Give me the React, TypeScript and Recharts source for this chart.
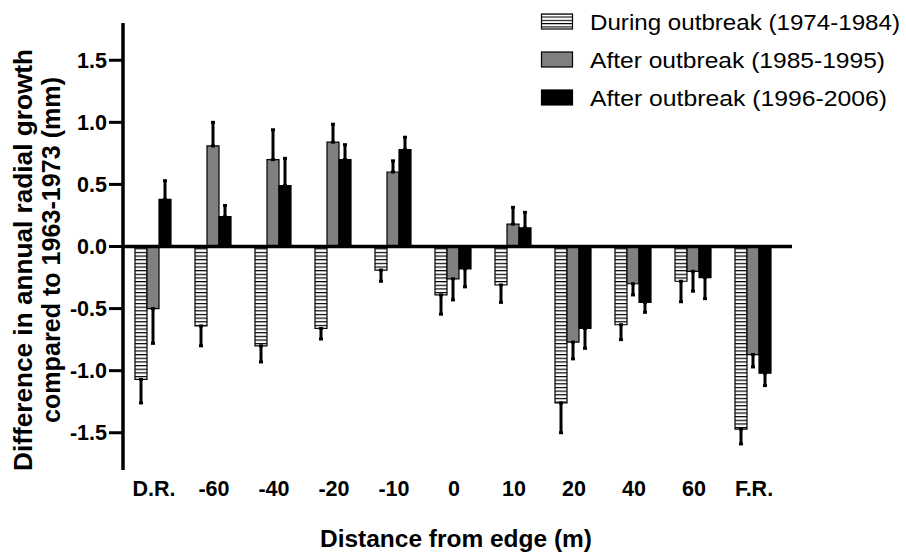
import { BarChart, Bar, XAxis, YAxis, ErrorBar, ReferenceLine, Legend, Label } from "recharts";

const FONT = "'Liberation Sans', Arial, sans-serif";

const categories = ["D.R.", "-60", "-40", "-20", "-10", "0", "10", "20", "40", "60", "F.R."];
const during = [-1.07, -0.64, -0.8, -0.66, -0.19, -0.39, -0.31, -1.26, -0.63, -0.28, -1.47];
const duringErr = [0.19, 0.16, 0.13, 0.085, 0.09, 0.155, 0.14, 0.24, 0.12, 0.165, 0.12];
const after85 = [-0.5, 0.81, 0.7, 0.84, 0.6, -0.26, 0.18, -0.77, -0.3, -0.2, -0.87];
const after85Err = [0.28, 0.19, 0.24, 0.145, 0.09, 0.17, 0.135, 0.135, 0.09, 0.16, 0.1];
const after96 = [0.38, 0.24, 0.49, 0.7, 0.78, -0.18, 0.15, -0.66, -0.45, -0.25, -1.02];
const after96Err = [0.15, 0.09, 0.22, 0.12, 0.1, 0.145, 0.125, 0.16, 0.08, 0.17, 0.1];
const seriesNames = [
  "During outbreak (1974-1984)",
  "After outbreak (1985-1995)",
  "After outbreak (1996-2006)",
];
const yTicks = [-1.5, -1, -0.5, 0, 0.5, 1, 1.5];

// one-sided error bars, pointing away from zero
const oneSided = (v: number, e: number) => (v < 0 ? [e, 0] : [0, e]);

const XTick = (props: any) => {
  const { x, y, payload } = props;
  return (
    <text x={x + 1} y={y + 26} textAnchor="middle" fontFamily={FONT} fontSize={21.5} fontWeight="bold" fill="#000">
      {payload.value}
    </text>
  );
};

const XTitle = () => (
  <text x={456} y={547} textAnchor="middle" fontFamily={FONT} fontSize={23} fontWeight="bold" fill="#000"
    textLength={272} lengthAdjust="spacingAndGlyphs">
    Distance from edge (m)
  </text>
);

const YTitle = () => (
  <g fontFamily={FONT} fontSize={26} fontWeight="bold" fill="#000">
    <text transform="translate(32,260) rotate(-90)" textAnchor="middle" textLength={422} lengthAdjust="spacingAndGlyphs">
      Difference in annual radial growth
    </text>
    <text transform="translate(59.5,250) rotate(-90)" textAnchor="middle" textLength={346} lengthAdjust="spacingAndGlyphs">
      compared to 1963-1973 (mm)
    </text>
  </g>
);

const legendFills = ["url(#legstripe)", "#808080", "#000"];
const legendLens = [310, 295, 297];

const LegendBox = () => (
  <svg width={376} height={120} style={{ display: "block" }}>
    <defs>
      <pattern id="legstripe" patternUnits="userSpaceOnUse" width={8} height={3.3}>
        <rect width={8} height={3.3} fill="#fff" />
        <rect width={8} height={1.1} fill="#000" />
      </pattern>
    </defs>
    {seriesNames.map((name, i) => {
      const top = 14 + i * 38;
      return (
        <g key={name}>
          <rect x={11.5} y={top} width={31} height={15} fill={legendFills[i]} stroke="#000" strokeWidth={1.2} />
          <text x={60} y={top + 15.5} fontFamily={FONT} fontSize={21.5} fill="#000"
            textLength={legendLens[i]} lengthAdjust="spacingAndGlyphs">
            {name}
          </text>
        </g>
      );
    })}
  </svg>
);

export default function App() {
  const data = categories.map((cat, i) => ({
    cat,
    during: during[i],
    duringErr: oneSided(during[i], duringErr[i]),
    after85: after85[i],
    after85Err: oneSided(after85[i], after85Err[i]),
    after96: after96[i],
    after96Err: oneSided(after96[i], after96Err[i]),
  }));

  return (
    <div style={{ position: "absolute", left: 0, top: 0, width: 906, height: 553, background: "#fff" }}>
      <BarChart
        width={906}
        height={553}
        data={data}
        margin={{ top: 23, right: 114, bottom: 0, left: 0 }}
        barGap={0}
        barCategoryGap={12}
      >
        <defs>
          <pattern id="hstripe" patternUnits="userSpaceOnUse" width={8} height={3.65}>
            <rect width={8} height={3.65} fill="#fff" />
            <rect width={8} height={1.2} fill="#000" />
          </pattern>
        </defs>
        <XAxis
          dataKey="cat"
          axisLine={false}
          tickLine={false}
          tickSize={0}
          tickMargin={0}
          height={83}
          interval={0}
          padding={{ left: 0, right: 9 }}
          tick={<XTick />}
        >
          <Label content={XTitle} />
        </XAxis>
        <YAxis
          domain={[-1.8, 1.8]}
          ticks={yTicks}
          width={123}
          allowDataOverflow
          axisLine={{ stroke: "#000", strokeWidth: 3.5 }}
          tickLine={{ stroke: "#000", strokeWidth: 3 }}
          tickSize={14}
          tickMargin={2}
          tick={{ fill: "#000", fontSize: 21.5, fontWeight: "bold", fontFamily: FONT }}
          tickFormatter={(v: number) => v.toFixed(1)}
        >
          <Label content={YTitle} />
        </YAxis>
        <Legend
          layout="horizontal"
          verticalAlign="middle"
          align="center"
          wrapperStyle={{ position: "absolute", top: 0, left: 530, width: 376, height: 120 }}
          content={LegendBox}
        />
        <Bar dataKey="during" name={seriesNames[0]} fill="url(#hstripe)" stroke="#000" strokeWidth={1.2} isAnimationActive={false}>
          <ErrorBar dataKey="duringErr" stroke="#000" strokeWidth={3} width={2} />
        </Bar>
        <Bar dataKey="after85" name={seriesNames[1]} fill="#808080" stroke="#000" strokeWidth={1.2} isAnimationActive={false}>
          <ErrorBar dataKey="after85Err" stroke="#000" strokeWidth={3} width={2} />
        </Bar>
        <Bar dataKey="after96" name={seriesNames[2]} fill="#000" stroke="#000" strokeWidth={1.2} isAnimationActive={false}>
          <ErrorBar dataKey="after96Err" stroke="#000" strokeWidth={3} width={2} />
        </Bar>
        <ReferenceLine y={0} stroke="#000" strokeWidth={3.5} />
      </BarChart>
    </div>
  );
}
